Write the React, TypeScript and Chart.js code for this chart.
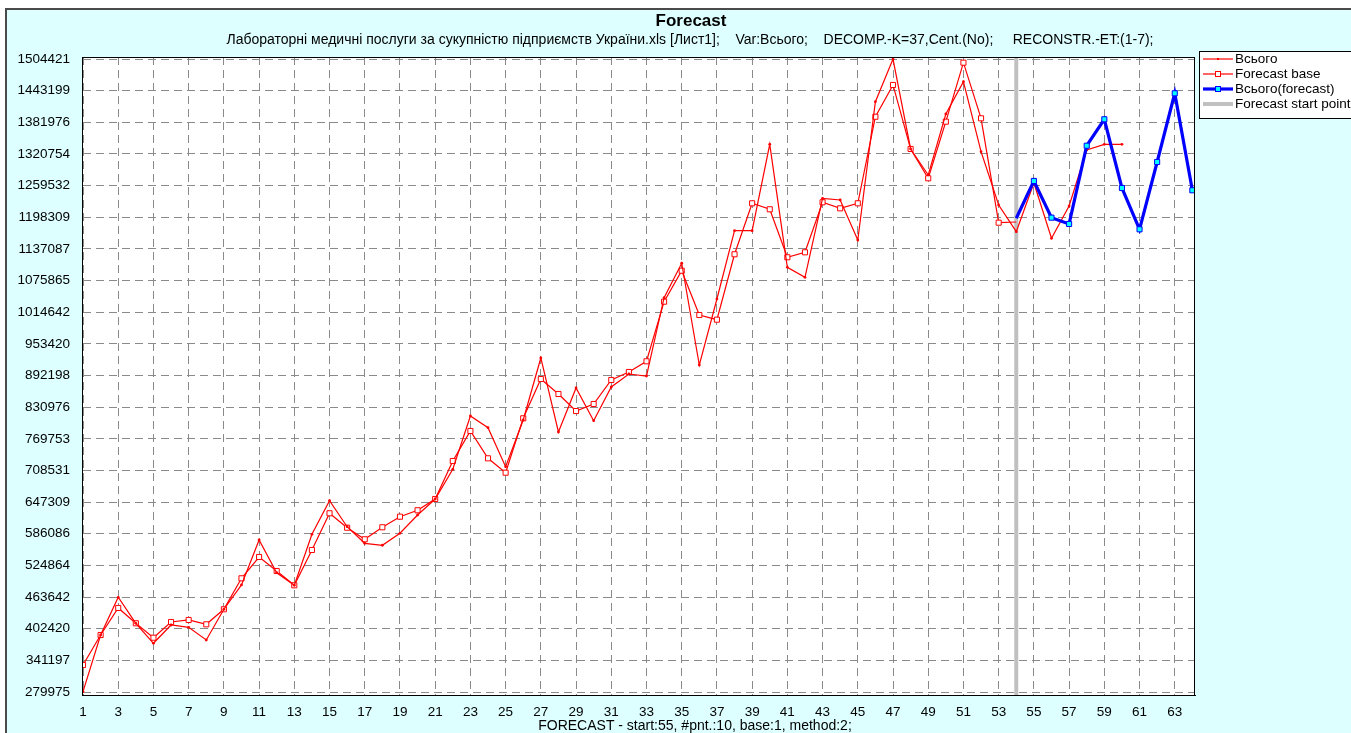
import React, { useEffect, useRef } from "react";
import { Chart, registerables } from "chart.js";

Chart.register(...registerables);

// ---- data ----
const actualX = [
  1, 2, 3, 4, 5, 6, 7, 8, 9, 10, 11, 12, 13, 14, 15, 16, 17, 18, 19, 20,
  21, 22, 23, 24, 25, 26, 27, 28, 29, 30, 31, 32, 33, 34, 35, 36, 37, 38, 39, 40,
  41, 42, 43, 44, 45, 46, 47, 48, 49, 50, 51, 52, 53, 54, 55, 56, 57, 58, 59, 60,
];
const actualValues = [
  280600, 390200, 463200, 412900, 374200, 409600, 405100, 380600, 440000, 487000,
  574000, 510700, 486400, 585000, 650000, 599700, 567600, 563800, 587000, 622400,
  653300, 710800, 813900, 791200, 715800, 806100, 926100, 782900, 868000, 804800,
  870000, 895100, 891200, 1042700, 1109300, 912500, 1040200, 1172300, 1172300, 1339400,
  1101500, 1082200, 1235000, 1231700, 1154300, 1421900, 1504400, 1330400, 1280100, 1398100,
  1460500, 1325100, 1222000, 1170400, 1264600, 1157600, 1220100, 1328400, 1339400, 1339400,
];
const baseX = [
  1, 2, 3, 4, 5, 6, 7, 8, 9, 10, 11, 12, 13, 14, 15, 16, 17, 18, 19, 20,
  21, 22, 23, 24, 25, 26, 27, 28, 29, 30, 31, 32, 33, 34, 35, 36, 37, 38, 39, 40,
  41, 42, 43, 44, 45, 46, 47, 48, 49, 50, 51, 52, 53, 54,
];
const baseValues = [
  332200, 390200, 442500, 412900, 385000, 415400, 419300, 410900, 440000, 499900,
  541100, 514000, 486400, 554700, 625700, 597800, 575400, 598600, 619100, 631500,
  653300, 726800, 784900, 732000, 704200, 809400, 885400, 856400, 823500, 837100,
  883500, 899000, 919700, 1035000, 1094900, 1009200, 1000200, 1126700, 1225300, 1213700,
  1120900, 1130500, 1227300, 1215600, 1225300, 1392800, 1454200, 1330400, 1273700, 1383200,
  1497300, 1389700, 1187800, 1189100,
];
const forecastX = [54, 55, 56, 57, 58, 59, 60, 61, 62, 63, 64];
const forecastValues = [
  1196300, 1268500, 1197500, 1185300, 1336700, 1387800, 1254900, 1175000, 1305200, 1438100, 1250500,
];
const forecastStartPoint = 54;

const yTickValues = [
  279975, 341197, 402420, 463642, 524864, 586086, 647309, 708531, 769753, 830976,
  892198, 953420, 1014642, 1075865, 1137087, 1198309, 1259532, 1320754, 1381976, 1443199, 1504421,
];
const xTickValues = [
  1, 3, 5, 7, 9, 11, 13, 15, 17, 19, 21, 23, 25, 27, 29, 31, 33, 35, 37, 39,
  41, 43, 45, 47, 49, 51, 53, 55, 57, 59, 61, 63,
];

const titleText = "Forecast";
const subtitleText =
  "Лабораторні медичні послуги за сукупністю підприємств України.xls [Лист1];    Var:Всього;    DECOMP.-K=37,Cent.(No);     RECONSTR.-ET:(1-7);";
const xTitleText = "FORECAST - start:55, #pnt.:10, base:1, method:2;";

const FONT = "'Liberation Sans', Arial, sans-serif";

const decorPlugin = {
  id: "decor",
  beforeDraw(chart: any) {
    const { ctx, chartArea: a } = chart;
    ctx.save();
    ctx.fillStyle = "#ffffff";
    ctx.fillRect(a.left, a.top, a.right - a.left, a.bottom - a.top);
    ctx.restore();
  },
  afterDraw(chart: any) {
    const { ctx, chartArea: a } = chart;
    ctx.save();
    // plot frame
    ctx.strokeStyle = "#000000";
    ctx.lineWidth = 1;
    ctx.strokeRect(a.left + 0.5, a.top + 0.5, a.right - a.left - 1, a.bottom - a.top);

    // titles
    ctx.fillStyle = "#000000";
    ctx.textAlign = "center";
    ctx.textBaseline = "middle";
    ctx.font = `bold 17px ${FONT}`;
    ctx.fillText(titleText, 684, 11);
    ctx.font = `14px ${FONT}`;
    ctx.fillText(subtitleText, 683, 30);
    ctx.fillText(xTitleText, 688, 716);

    // legend
    const lx = 1192;
    const ly = 41;
    ctx.fillStyle = "#ffffff";
    ctx.fillRect(lx, ly, 170, 67);
    ctx.strokeStyle = "#000000";
    ctx.lineWidth = 1;
    ctx.strokeRect(lx + 0.5, ly + 0.5, 170, 67);
    const rows = [49, 64, 79, 94];
    const ds = chart.data.datasets;
    ds.forEach((d: any, i: number) => {
      const y = rows[i];
      ctx.save();
      ctx.strokeStyle = d.borderColor;
      ctx.lineWidth = d.borderWidth;
      ctx.beginPath();
      ctx.moveTo(lx + 4, y);
      ctx.lineTo(lx + 34, y);
      ctx.stroke();
      const cx = lx + 19;
      if (d.legendMarker === "dot") {
        ctx.fillStyle = d.borderColor;
        ctx.fillRect(cx - 1, y - 1, 2, 2);
      } else if (d.legendMarker === "square") {
        ctx.fillStyle = d.pointBackgroundColor;
        ctx.strokeStyle = d.pointBorderColor;
        ctx.lineWidth = 1;
        ctx.fillRect(cx - 2.5, y - 2.5, 5, 5);
        ctx.strokeRect(cx - 2.5, y - 2.5, 5, 5);
      }
      ctx.restore();
      ctx.fillStyle = "#000000";
      ctx.textAlign = "left";
      ctx.textBaseline = "middle";
      ctx.font = `13.5px ${FONT}`;
      ctx.fillText(d.label, lx + 36, y);
    });
    ctx.restore();
  },
};

export default function App() {
  const canvasRef = useRef<HTMLCanvasElement | null>(null);

  useEffect(() => {
    const canvas = canvasRef.current;
    if (!canvas) return;

    const yMin = 274172;
    const yMax = 1508290;

    const chart = new Chart(canvas, {
      type: "line",
      data: {
        datasets: [
          {
            label: "Всього",
            data: actualX.map((x, i) => ({ x, y: actualValues[i] })),
            borderColor: "#ff0000",
            borderWidth: 1.2,
            pointStyle: "circle",
            pointRadius: 1.4,
            pointBackgroundColor: "#ff0000",
            pointBorderWidth: 0,
            tension: 0,
            order: 2,
            legendMarker: "dot",
          } as any,
          {
            label: "Forecast base",
            data: baseX.map((x, i) => ({ x, y: baseValues[i] })),
            borderColor: "#ff0000",
            borderWidth: 1.2,
            pointStyle: "rect",
            pointRadius: baseX.map((x) => (x === forecastStartPoint ? 0 : 3.6)),
            pointBackgroundColor: "#ffffff",
            pointBorderColor: "#ff0000",
            pointBorderWidth: 1,
            tension: 0,
            order: 3,
            legendMarker: "square",
          } as any,
          {
            label: "Всього(forecast)",
            data: forecastX.map((x, i) => ({ x, y: forecastValues[i] })),
            borderColor: "#0000ff",
            borderWidth: 3.2,
            pointStyle: "rect",
            pointRadius: forecastX.map((x) => (x === forecastStartPoint ? 0 : 3.6)),
            pointBackgroundColor: "#00ffff",
            pointBorderColor: "#0000ff",
            pointBorderWidth: 1,
            tension: 0,
            order: 1,
            legendMarker: "square",
          } as any,
          {
            label: "Forecast start point",
            data: [
              { x: forecastStartPoint, y: yMin },
              { x: forecastStartPoint, y: yMax },
            ],
            borderColor: "#c0c0c0",
            borderWidth: 4,
            pointRadius: 0,
            tension: 0,
            order: 4,
            legendMarker: "none",
          } as any,
        ],
      },
      options: {
        animation: false,
        responsive: false,
        maintainAspectRatio: false,
        events: [],
        layout: { padding: { left: 0, top: 47, right: 156, bottom: 0 } },
        plugins: {
          legend: { display: false },
          tooltip: { enabled: false },
          title: { display: false },
        },
        scales: {
          x: {
            type: "linear",
            min: 0.943,
            max: 64.15,
            afterBuildTicks: (scale: any) => {
              scale.ticks = xTickValues.map((v) => ({ value: v }));
            },
            afterFit: (scale: any) => {
              scale.height = 38;
            },
            ticks: {
              autoSkip: false,
              maxRotation: 0,
              padding: 9,
              color: "#000000",
              font: { family: FONT, size: 13.5 },
              callback: (v: any) => String(v),
            },
            grid: {
              color: "#8a8a8a",
              lineWidth: 1,
              drawTicks: false,
            },
            border: { display: true, color: "#000000", width: 1, dash: [8, 5] },
          },
          y: {
            type: "linear",
            min: yMin,
            max: yMax,
            afterBuildTicks: (scale: any) => {
              scale.ticks = yTickValues.map((v) => ({ value: v }));
            },
            afterFit: (scale: any) => {
              scale.width = 75;
            },
            ticks: {
              autoSkip: false,
              padding: 12,
              color: "#000000",
              font: { family: FONT, size: 13.5 },
              callback: (v: any) => String(Math.round(v)),
            },
            grid: {
              color: "#8a8a8a",
              lineWidth: 1,
              drawTicks: false,
            },
            border: { display: true, color: "#000000", width: 1, dash: [8, 5] },
          },
        },
      },
      plugins: [decorPlugin],
    } as any);

    return () => {
      chart.destroy();
    };
  }, []);

  return (
    <div
      style={{
        position: "fixed",
        left: 5,
        top: 8,
        width: 1346,
        height: 725,
        borderTop: "2px solid #4a4a4a",
        borderLeft: "2px solid #4a4a4a",
        background: "#ddffff",
        overflow: "hidden",
      }}
    >
      <canvas
        ref={canvasRef}
        width={1344}
        height={723}
        style={{ display: "block", width: 1344, height: 723 }}
      />
    </div>
  );
}
